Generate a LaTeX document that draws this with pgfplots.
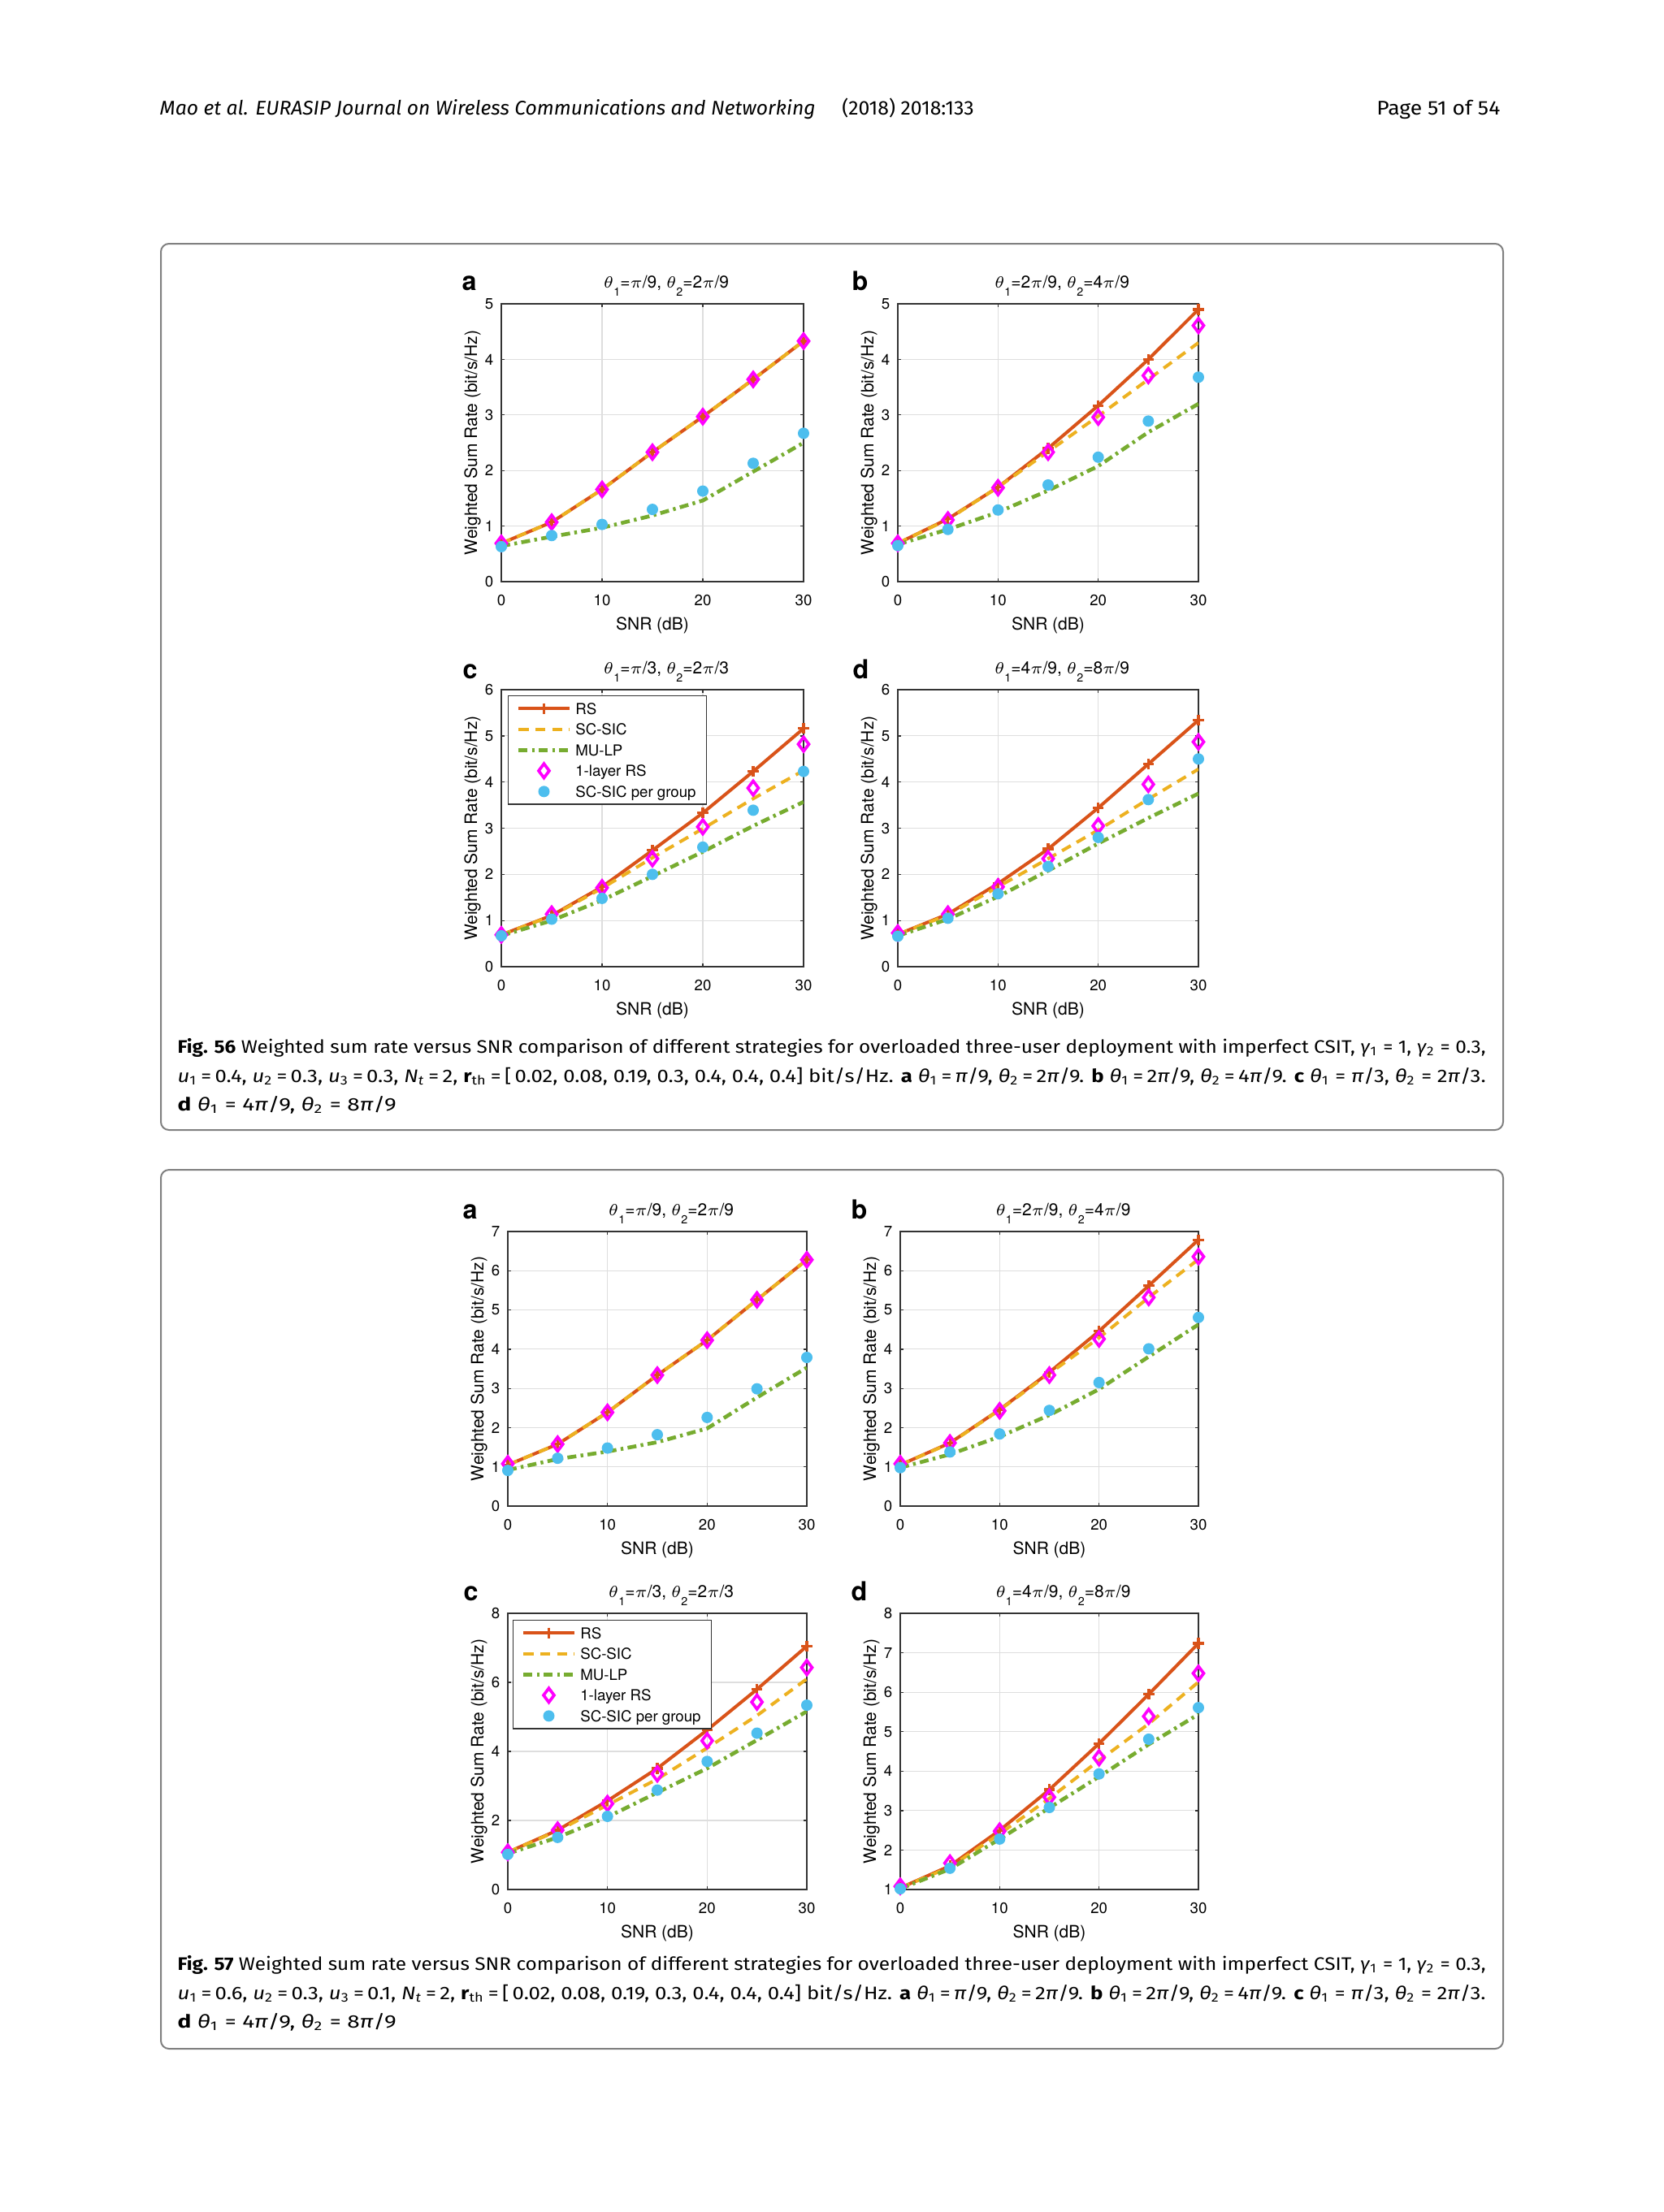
\documentclass[border=0pt]{standalone}
\usepackage{fontspec}
\usepackage{graphicx}
\usepackage{pgfplots}
\pgfplotsset{compat=1.18}
\usepackage{pgfplotstable}
\usetikzlibrary{calc}
\setmainfont{Fira Sans}
\newfontfamily\plotfont{TeX Gyre Heros}
\newfontfamily\capfont{Fira Sans}

\definecolor{rs}{rgb}{0.85,0.325,0.098}
\definecolor{scsic}{rgb}{0.929,0.694,0.125}
\definecolor{mulp}{rgb}{0.466,0.674,0.188}
\definecolor{onel}{rgb}{1,0,1}
\definecolor{grp}{rgb}{0.301,0.745,0.933}

\newcommand\tsub[1]{\raisebox{-2.9pt}{\fontsize{4.3}{5}\selectfont #1}}
\newcommand\ts[1]{\textsubscript{#1}}

% Fig. 56
\pgfplotstableread{
x rs sc mu one grp
0 0.69 0.69 0.64 0.69 0.63
5 1.07 1.07 0.81 1.07 0.83
10 1.66 1.66 0.97 1.66 1.03
15 2.33 2.33 1.19 2.33 1.30
20 2.97 2.97 1.46 2.97 1.63
25 3.64 3.64 1.98 3.64 2.13
30 4.33 4.33 2.50 4.33 2.67
}\tA
\pgfplotstableread{
x rs sc mu one grp
0 0.69 0.69 0.67 0.69 0.65
5 1.13 1.12 0.94 1.11 0.94
10 1.70 1.70 1.25 1.69 1.29
15 2.40 2.34 1.64 2.33 1.74
20 3.17 2.98 2.08 2.96 2.24
25 4.00 3.64 2.69 3.71 2.89
30 4.90 4.30 3.20 4.61 3.68
}\tB
\pgfplotstableread{
x rs sc mu one grp
0 0.69 0.69 0.67 0.69 0.67
5 1.11 1.10 1.00 1.14 1.03
10 1.73 1.70 1.44 1.71 1.48
15 2.52 2.36 1.96 2.34 2.00
20 3.33 2.99 2.49 3.03 2.59
25 4.23 3.64 3.05 3.87 3.39
30 5.16 4.25 3.57 4.82 4.23
}\tC
\pgfplotstableread{
x rs sc mu one grp
0 0.70 0.70 0.67 0.73 0.66
5 1.14 1.12 1.03 1.14 1.05
10 1.80 1.73 1.52 1.73 1.58
15 2.55 2.34 2.08 2.34 2.17
20 3.44 2.96 2.67 3.05 2.80
25 4.39 3.63 3.22 3.95 3.62
30 5.34 4.28 3.75 4.87 4.50
}\tD
% Fig. 57
\pgfplotstableread{
x rs sc mu one grp
0 1.05 1.05 0.92 1.08 0.91
5 1.58 1.58 1.20 1.58 1.22
10 2.39 2.39 1.39 2.39 1.48
15 3.34 3.34 1.63 3.34 1.82
20 4.23 4.23 1.98 4.23 2.26
25 5.26 5.26 2.77 5.26 2.99
30 6.28 6.28 3.53 6.28 3.79
}\tE
\pgfplotstableread{
x rs sc mu one grp
0 1.05 1.05 0.98 1.08 0.98
5 1.61 1.60 1.32 1.61 1.38
10 2.46 2.45 1.77 2.43 1.84
15 3.41 3.38 2.32 3.34 2.44
20 4.46 4.29 2.98 4.26 3.15
25 5.62 5.32 3.81 5.32 4.01
30 6.79 6.29 4.63 6.36 4.81
}\tF
\pgfplotstableread{
x rs sc mu one grp
0 1.08 1.08 1.04 1.08 1.02
5 1.72 1.70 1.51 1.72 1.51
10 2.57 2.45 2.10 2.49 2.12
15 3.51 3.20 2.81 3.35 2.88
20 4.62 4.10 3.51 4.31 3.71
25 5.80 5.04 4.33 5.43 4.53
30 7.05 6.10 5.16 6.43 5.34
}\tG
\pgfplotstableread{
x rs sc mu one grp
0 1.04 1.04 1.02 1.08 1.02
5 1.60 1.57 1.52 1.67 1.54
10 2.50 2.41 2.28 2.48 2.28
15 3.53 3.31 3.07 3.34 3.08
20 4.70 4.27 3.86 4.34 3.93
25 5.95 5.20 4.68 5.39 4.81
30 7.24 6.26 5.44 6.48 5.61
}\tH

\pgfplotsset{
 rsline/.style={color=rs, solid, line width=1.2pt, mark=+, mark size=2pt, mark options={solid, line width=1pt}},
 scline/.style={color=scsic, line width=1.2pt, dash pattern=on 3.7pt off 2.5pt, no marks},
 muline/.style={color=mulp, line width=1.4pt, dash pattern=on 3.3pt off 1.6pt on 1pt off 1.6pt, no marks},
 onemark/.style={only marks, color=onel, mark=diamond, mark size=2.6pt, mark options={solid, line width=1.1pt, draw=onel}},
 grpmark/.style={only marks, color=grp, mark=*, mark size=1.9pt, mark options={solid, draw=grp, fill=grp}},
 wsr/.style={
  scale only axis, anchor=south west,
  xmin=0, xmax=30, xtick={0,10,20,30},
  axis line style={black!80, line width=0.4pt},
  grid=major, major grid style={black!13, line width=0.35pt},
  tick align=inside, tick pos=both, major tick length=1.2pt,
  tick style={black!80, line width=0.4pt},
  ticklabel pos=left,
  /pgf/number format/assume math mode=true,
  tick label style={font=\plotfont\fontsize{5.6}{6}\selectfont, inner sep=0pt},
  xticklabel style={anchor=base, yshift=-8.7pt},
  yticklabel style={anchor=east, xshift=-2.7pt},
  every axis x label/.style={at={($(axis description cs:0.5,0)+(0,-17.7pt)$)}, anchor=base, inner sep=0pt, font=\plotfont\fontsize{6.3}{7}\selectfont},
  every axis y label/.style={at={($(axis description cs:0,0.5)+(-9pt,0)$)}, rotate=90, anchor=base, inner sep=0pt, font=\plotfont\fontsize{6.3}{7}\selectfont},
  every axis title/.style={at={($(axis description cs:0.5,1)+(5.1pt,5.9pt)$)}, anchor=base, inner sep=0pt, font=\plotfont\fontsize{6.3}{7}\selectfont},
  xlabel={SNR (dB)}, ylabel={Weighted Sum Rate (bit/s/Hz)},
  legend image code/.code={%
    \begin{pgfinterruptboundingbox}
    \draw[mark repeat=2, mark phase=2, ##1] plot coordinates {(0pt,0pt) (9.35pt,0pt) (18.7pt,0pt)};
    \end{pgfinterruptboundingbox}
    \path[draw=none, fill=none] (0pt,-2pt) rectangle (18.7pt,2pt);
  },
  legend cell align=left,
 },
 wsrleg/.style={
  legend style={at={(axis description cs:#1)}, anchor=north west, draw=black!80, line width=0.4pt, fill=white,
   inner xsep=3.8pt, inner ysep=2.7pt, row sep=3.65pt,
   font=\plotfont\fontsize{5.6}{6}\selectfont,
   nodes={inner sep=0pt, text height=4pt, text depth=0pt},
   /tikz/every odd column/.style={column sep=2.3pt}},
 },
}

\newcommand\curves[1]{%
 \addplot[rsline] table[x=x,y=rs]{#1};
 \addplot[scline] table[x=x,y=sc]{#1};
 \addplot[muline] table[x=x,y=mu]{#1};
 \addplot[onemark] table[x=x,y=one]{#1};
 \addplot[grpmark] table[x=x,y=grp]{#1};
}

\newcommand\Ta{$\theta$\tsub{1}=$\pi$/9, $\theta$\tsub{2}=2$\pi$/9}
\newcommand\Tb{$\theta$\tsub{1}=2$\pi$/9, $\theta$\tsub{2}=4$\pi$/9}
\newcommand\Tc{$\theta$\tsub{1}=$\pi$/3, $\theta$\tsub{2}=2$\pi$/3}
\newcommand\Td{$\theta$\tsub{1}=4$\pi$/9, $\theta$\tsub{2}=8$\pi$/9}

\newcommand\capLineOne[1]{\textbf{Fig. #1} Weighted sum rate versus SNR comparison of different strategies for overloaded three-user deployment with imperfect CSIT, \textit{γ}\ts{1} = 1, \textit{γ}\ts{2} = 0.3,}
\newcommand\capLineTwo[3]{\textit{u}\ts{1}\,=\,#1, \textit{u}\ts{2}\,=\,#2, \textit{u}\ts{3}\,=\,#3, \textit{N}\ts{\textit{t}}\,=\,2, \textbf{r}\ts{th}\,=\,[\,0.02, 0.08, 0.19, 0.3, 0.4, 0.4, 0.4] bit/s/Hz. \textbf{a} \textit{θ}\ts{1}\,=\,\textit{π}/9, \textit{θ}\ts{2}\,=\,2\textit{π}/9. \textbf{b} \textit{θ}\ts{1}\,=\,2\textit{π}/9, \textit{θ}\ts{2}\,=\,4\textit{π}/9. \textbf{c} \textit{θ}\ts{1} = \textit{π}/3, \textit{θ}\ts{2} = 2\textit{π}/3.}
\newcommand\capLineThree{\textbf{d} \textit{θ}\ts{1} = 4\textit{π}/9, \textit{θ}\ts{2} = 8\textit{π}/9}

\begin{document}
\begin{tikzpicture}
\path[use as bounding box, fill=white] (0,0) rectangle (614.4pt,-816.9pt);

% header
\node[anchor=base west, inner sep=0pt, font=\capfont\fontsize{7.3}{8}\selectfont] at (58.8pt,-42.5pt)
 {\resizebox{300.6pt}{\height}{\itshape Mao et al. EURASIP Journal on Wireless Communications and Networking\hspace{9.6pt}\upshape (2018) 2018:133}};
\node[anchor=base east, inner sep=0pt, font=\capfont\fontsize{7.3}{8}\selectfont] at (554.1pt,-42.5pt)
 {\resizebox{45.6pt}{\height}{Page 51 of 54}};

% boxes
\draw[black!50, line width=0.6pt, rounded corners=3pt] (59.4pt,-90pt) rectangle (555pt,-417.3pt);
\draw[black!50, line width=0.6pt, rounded corners=3pt] (59.4pt,-432pt) rectangle (555pt,-756.6pt);

% panel letters
\foreach \l/\x/\y in {a/170.4/107.1, b/314.4/107.1, c/170.7/250.7, d/314.7/250.7, a/170.7/450, b/314.1/450, c/171/591, d/314.1/591}{
 \node[anchor=base west, inner sep=0pt, font=\plotfont\bfseries\fontsize{9.7}{10}\selectfont] at (\x pt,-\y pt) {\l};
}

% ---------- Fig. 56 ----------
\begin{axis}[wsr, at={(185.1pt,-214.8pt)}, width=111.6pt, height=102.6pt, ymin=0, ymax=5, ytick={0,1,2,3,4,5}, title={\Ta}]
\curves{\tA}
\end{axis}
\begin{axis}[wsr, at={(331.5pt,-214.8pt)}, width=111pt, height=102.6pt, ymin=0, ymax=5, ytick={0,1,2,3,4,5}, title={\Tb}]
\curves{\tB}
\end{axis}
\begin{axis}[wsr, wsrleg={0.0215,0.9795}, at={(185.1pt,-357pt)}, width=111.6pt, height=102.3pt, ymin=0, ymax=6, ytick={0,1,2,3,4,5,6}, title={\Tc}]
\curves{\tC}
\legend{RS, SC-SIC, MU-LP, 1-layer RS, SC-SIC per group\hspace{2pt}}
\end{axis}
\begin{axis}[wsr, at={(331.5pt,-357pt)}, width=111pt, height=102.3pt, ymin=0, ymax=6, ytick={0,1,2,3,4,5,6}, title={\Td}]
\curves{\tD}
\end{axis}

% ---------- Fig. 57 ----------
\begin{axis}[wsr, at={(187.5pt,-556.2pt)}, width=110.4pt, height=101.4pt, ymin=0, ymax=7, ytick={0,1,2,3,4,5,6,7}, title={\Ta}]
\curves{\tE}
\end{axis}
\begin{axis}[wsr, at={(332.4pt,-556.2pt)}, width=110.1pt, height=101.4pt, ymin=0, ymax=7, ytick={0,1,2,3,4,5,6,7}, title={\Tb}]
\curves{\tF}
\end{axis}
\begin{axis}[wsr, wsrleg={0.0163,0.9765}, at={(187.5pt,-697.8pt)}, width=110.4pt, height=102pt, ymin=0, ymax=8, ytick={0,2,4,6,8}, title={\Tc}]
\curves{\tG}
\legend{RS, SC-SIC, MU-LP, 1-layer RS, SC-SIC per group}
\end{axis}
\begin{axis}[wsr, at={(332.4pt,-697.8pt)}, width=110.1pt, height=102pt, ymin=1, ymax=8, ytick={1,2,3,4,5,6,7,8}, title={\Td}]
\curves{\tH}
\end{axis}

% captions
\begin{scope}[every node/.style={anchor=base west, inner sep=0pt, font=\capfont\fontsize{6.7}{8}\selectfont}]
\node at (65.4pt,-388.8pt) {\resizebox{483pt}{\height}{\capLineOne{56}}};
\node at (65.4pt,-399.6pt) {\resizebox{483pt}{\height}{\capLineTwo{0.4}{0.3}{0.3}}};
\node at (65.4pt,-410.1pt) {\resizebox{80.7pt}{\height}{\capLineThree}};
\node at (65.4pt,-727.5pt) {\resizebox{483pt}{\height}{\capLineOne{57}}};
\node at (65.4pt,-738.3pt) {\resizebox{483pt}{\height}{\capLineTwo{0.6}{0.3}{0.1}}};
\node at (65.4pt,-748.8pt) {\resizebox{80.7pt}{\height}{\capLineThree}};
\end{scope}
\end{tikzpicture}
\end{document}
